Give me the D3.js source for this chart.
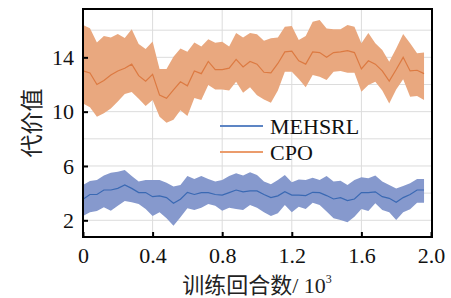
<!DOCTYPE html>
<html><head><meta charset="utf-8">
<script src="https://cdn.jsdelivr.net/npm/d3@7"></script>
<style>body{margin:0;background:#fff}svg{display:block}</style>
</head><body><svg id="c" width="451" height="298"></svg>
<script>
const episodes = [0,0.04,0.08,0.12,0.16,0.20,0.24,0.28,0.32,0.36,0.40,0.44,0.48,0.52,0.56,0.60,0.64,0.68,0.72,0.76,0.80,0.84,0.88,0.92,0.96,1.00,1.04,1.08,1.12,1.16,1.20,1.24,1.28,1.32,1.36,1.40,1.44,1.48,1.52,1.56,1.60,1.64,1.68,1.72,1.76,1.80,1.84,1.88,1.92,1.96];
const cpoMean = [13.0,12.85,12.0,12.3,12.7,13.0,13.2,13.5,12.65,12.25,12.75,11.22,10.98,11.6,12.2,11.9,13.0,12.8,13.7,13.1,13.1,13.2,13.85,13.3,13.7,13.5,12.9,12.85,13.55,14.4,14.45,13.75,13.5,14.4,14.35,14.0,14.35,14.4,14.5,14.35,13.15,13.75,13.5,13.0,12.25,13.1,14.0,13.0,13.05,12.8];
const cpoUpper = [16.38,16.15,15.1,15.57,15.47,15.72,15.42,16.06,14.98,14.62,15.17,13.15,13.15,14.05,14.66,14.42,15.1,14.79,15.33,15.08,15.15,14.79,15.8,15.47,15.8,15.7,15.23,15.4,15.47,16.26,16.3,15.28,15.57,16.63,16.75,16.13,16.06,16.06,16.38,16.26,15.03,15.8,15.03,14.54,13.68,14.66,15.72,15.03,14.3,14.35];
const cpoLower = [10.6,10.33,9.62,9.88,10.24,10.75,11.3,11.45,10.95,10.42,10.86,9.63,9.18,9.4,10.1,9.68,11.0,10.86,11.96,11.64,11.64,11.55,12.2,11.4,11.8,11.2,10.9,10.66,11.55,12.94,12.94,12.4,11.8,12.7,12.58,12.33,12.94,13.0,12.87,12.87,11.47,11.96,12.2,11.55,10.6,11.64,12.38,11.1,11.15,10.86];
const mehMean = [3.55,3.9,3.9,4.23,4.23,4.35,4.6,4.35,4.04,4.04,3.74,3.8,3.67,3.25,3.55,4.06,3.9,4.04,4.04,3.9,3.86,4.04,4.23,4.1,4.16,4.16,3.9,3.67,3.8,4.1,3.86,3.86,3.82,4.06,4.04,3.82,3.57,3.67,3.45,3.57,4.04,4.04,4.1,3.74,3.62,3.33,3.67,3.9,4.23,4.23];
const mehUpper = [4.6,4.9,4.97,5.29,5.5,5.58,5.7,5.26,4.85,4.97,4.97,4.97,4.77,4.48,4.6,5.26,5.04,5.26,5.04,4.85,4.97,5.26,5.46,5.29,5.53,5.34,4.85,4.65,4.97,5.34,4.8,5.0,4.97,5.14,4.97,5.26,4.85,4.92,4.6,4.97,5.17,5.09,5.29,4.85,4.6,4.35,4.53,4.72,5.04,5.04];
const mehLower = [2.32,2.59,2.69,2.96,2.71,3.08,3.42,3.33,3.2,2.83,2.32,2.59,2.15,1.6,2.22,2.88,2.76,2.93,3.2,3.08,2.71,2.93,2.83,2.76,3.13,2.93,2.59,2.32,2.52,3.13,2.59,3.0,2.83,3.3,3.13,2.64,2.15,2.02,1.85,2.27,2.83,2.69,3.25,2.76,2.59,2.02,2.59,2.81,3.3,3.3];
const xTicks = [0,0.4,0.8,1.2,1.6,2.0];
const xTickLabels = ["0","0.4","0.8","1.2","1.6","2.0"];
const yTicks = [2,6,10,14];
const yGrid = [2,4,6,8,10,12,14,16];
const seriesNames = ["MEHSRL","CPO"];

const svg = d3.select("#c");
const L=83, R=432, T=9, B=237;
const x = d3.scaleLinear().domain([0,2.0]).range([L,431]);
const y = d3.scaleLinear().domain([0.77,17.56]).range([B,T]);
const serif = "'Liberation Serif','Times New Roman',serif";
const cjk = "'Noto Sans CJK SC',sans-serif";

const g = svg.append("g");
g.selectAll(".gy").data(yGrid).join("line")
  .attr("x1",L).attr("x2",R).attr("y1",d=>y(d)).attr("y2",d=>y(d))
  .attr("stroke","#dcdcdc").attr("stroke-width",1);
g.selectAll(".gx").data(xTicks.slice(1,-1)).join("line")
  .attr("y1",T).attr("y2",B).attr("x1",d=>x(d)).attr("x2",d=>x(d))
  .attr("stroke","#dcdcdc").attr("stroke-width",1);

const idx = d3.range(episodes.length);
const area = (lo,hi)=>d3.area().x(i=>x(episodes[i])).y0(i=>y(lo[i])).y1(i=>y(hi[i]));
const line = (m)=>d3.line().x(i=>x(episodes[i])).y(i=>y(m[i]));

g.append("path").attr("d",area(cpoLower,cpoUpper)(idx)).attr("fill","#e9a87f");
g.append("path").attr("d",line(cpoMean)(idx)).attr("fill","none").attr("stroke","#dc7a42").attr("stroke-width",1.2);
g.append("path").attr("d",area(mehLower,mehUpper)(idx)).attr("fill","#8699cd");
g.append("path").attr("d",line(mehMean)(idx)).attr("fill","none").attr("stroke","#3a69b3").attr("stroke-width",1.2);

const xAxis = d3.axisBottom(x).tickValues(xTicks).tickFormat((d,i)=>xTickLabels[i]).tickSizeInner(-5).tickSizeOuter(0).tickPadding(10);
const yAxis = d3.axisLeft(y).tickValues(yTicks).tickFormat(d3.format("d")).tickSizeInner(-5).tickSizeOuter(0).tickPadding(9);
const gx = svg.append("g").attr("transform",`translate(0,${B})`).call(xAxis);
const gy = svg.append("g").attr("transform",`translate(${L},0)`).call(yAxis);
[gx,gy].forEach(a=>{
  a.select(".domain").remove();
  a.selectAll(".tick line").attr("stroke","#000").attr("stroke-width",2);
  a.selectAll(".tick text").attr("font-family",serif).attr("font-size",22).attr("fill","#111");
});
svg.append("rect").attr("x",L).attr("y",T).attr("width",R-L).attr("height",B-T)
  .attr("fill","none").attr("stroke","#000").attr("stroke-width",2);

const legColors = ["#5d85c4","#eb9c6c"];
const legY = [126,152];
seriesNames.forEach((n,i)=>{
  svg.append("line").attr("x1",220).attr("x2",263).attr("y1",legY[i]).attr("y2",legY[i])
    .attr("stroke",legColors[i]).attr("stroke-width",2);
  svg.append("text").attr("x",270).attr("y",legY[i]+7.5).text(n)
    .attr("font-family",serif).attr("font-size",22).attr("fill","#111");
});

svg.append("text").attr("transform","translate(40,123) rotate(-90)").attr("text-anchor","middle")
  .attr("font-family",cjk).attr("font-size",23).attr("fill","#222").text("代价值");
const xl = svg.append("text").attr("x",257).attr("y",293).attr("text-anchor","middle")
  .attr("font-family",cjk).attr("font-size",22).attr("fill","#222");
xl.append("tspan").text("训练回合数");
xl.append("tspan").attr("font-family",serif).text("/ 10");
xl.append("tspan").attr("font-family",serif).attr("font-size",12).attr("dy",-10).text("3");
</script></body></html>
